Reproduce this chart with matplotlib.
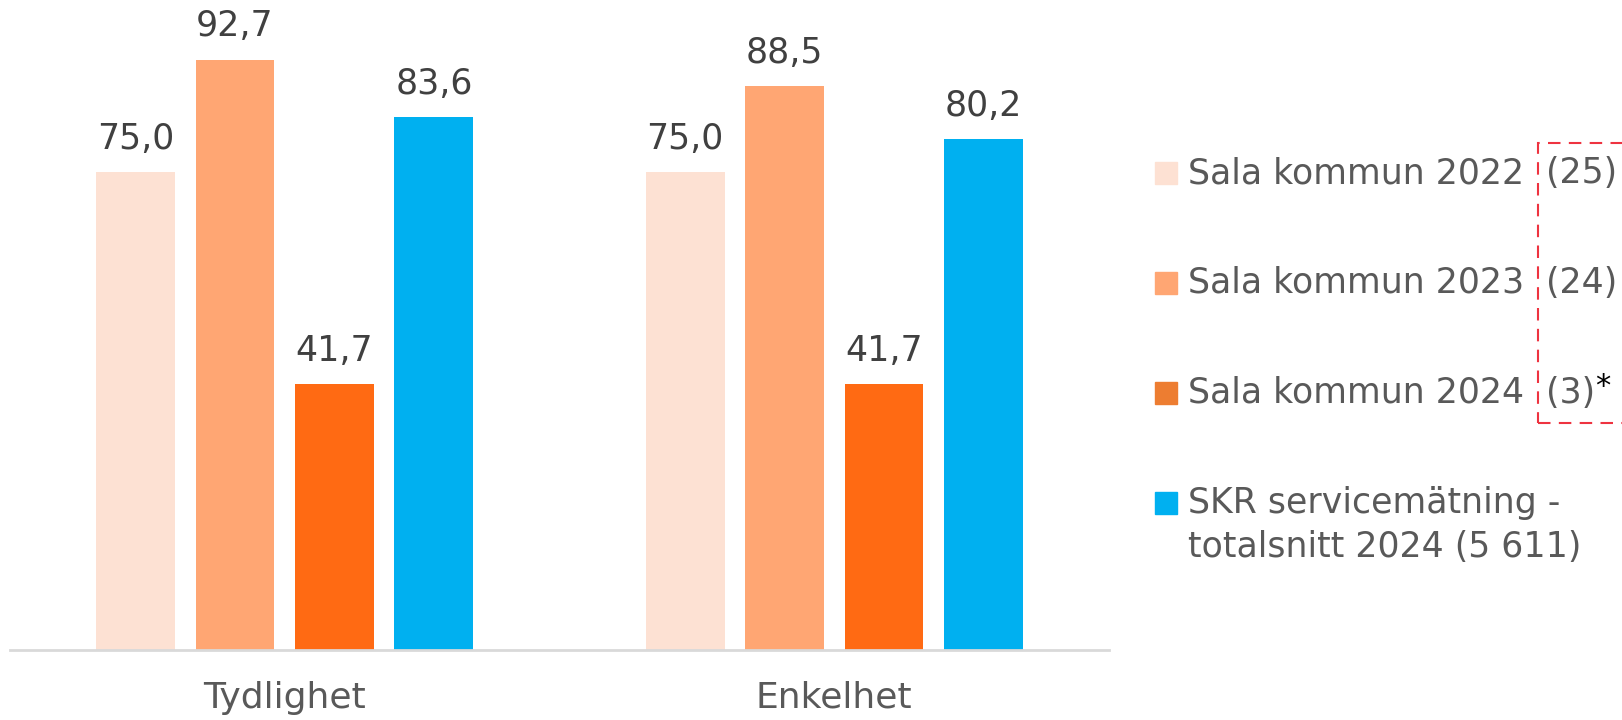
import matplotlib.pyplot as plt
from matplotlib.patches import Rectangle
import numpy as np

plt.rcParams['font.family'] = ['DejaVu Sans']

kategorier = ['Tydlighet', 'Enkelhet']
serier = ['Sala kommun 2022 (25)', 'Sala kommun 2023 (24)', 'Sala kommun 2024 (3)',
          'SKR servicemätning -\ntotalsnitt 2024 (5 611)']
varden = [[75.0, 75.0],
          [92.7, 88.5],
          [41.7, 41.7],
          [83.6, 80.2]]
farger = ['#FDE1D3', '#FFA673', '#FF6A13', '#00B0F0']
legend_farger = ['#FDE1D3', '#FFA673', '#ED7D31', '#00B0F0']

W, H = 1622, 720
fig = plt.figure(figsize=(W / 100, H / 100), dpi=100)
ax = fig.add_axes([10 / W, 70 / H, 1099 / W, 637 / H])

x = np.arange(len(kategorier))
steg = 0.181
bredd = 0.1436
for i in range(len(serier)):
    pos = x + (i - 1.5) * steg
    ax.bar(pos, varden[i], width=bredd, color=farger[i], zorder=2)
    for xp, v in zip(pos, varden[i]):
        ax.text(xp, v + 2.6, f"{v:.1f}".replace('.', ','), ha='center', va='bottom',
                fontsize=25, color='#404040')

ax.set_xlim(-0.5, 1.5)
ax.set_ylim(0, 100)
ax.set_yticks([])
ax.set_xticks(x)
ax.set_xticklabels(kategorier, fontsize=26, color='#595959')
ax.tick_params(axis='x', length=0, pad=22)
for s in ['top', 'left', 'right']:
    ax.spines[s].set_visible(False)
ax.spines['bottom'].set_color('#D9D9D9')
ax.spines['bottom'].set_linewidth(2)

# legend, drawn by hand
rad_y = [173, 283, 393, 503]
fs = 25
for i, namn in enumerate(serier):
    yc = rad_y[i]
    fig.patches.append(Rectangle((1155 / W, 1 - (yc + 11) / H), 22 / W, 22 / H,
                                 transform=fig.transFigure, color=legend_farger[i]))
    if i < 3:
        huvud, antal = namn.rsplit(' (', 1)
        fig.text(1188 / W, 1 - yc / H, huvud, fontsize=fs, color='#595959',
                 va='center', ha='left')
        t = fig.text(1546 / W, 1 - yc / H, '(' + antal, fontsize=fs, color='#595959',
                     va='center', ha='left')
        if i == 2:
            ax.annotate('*', xy=(1.0, 0.7), xycoords=t, ha='left', va='center',
                        fontsize=22, color='black')
    else:
        for j, rad in enumerate(namn.split('\n')):
            fig.text(1188 / W, 1 - (yc + 44 * j) / H, rad, fontsize=fs, color='#595959',
                     va='center', ha='left')

fig.patches.append(Rectangle((1538 / W, 1 - 423 / H), 200 / W, 280 / H,
                             transform=fig.transFigure, fill=False,
                             edgecolor='#EE3340', linestyle=(0, (6, 4)), linewidth=1.5,
                             clip_on=False))

fig.savefig('out.png', dpi=100)
